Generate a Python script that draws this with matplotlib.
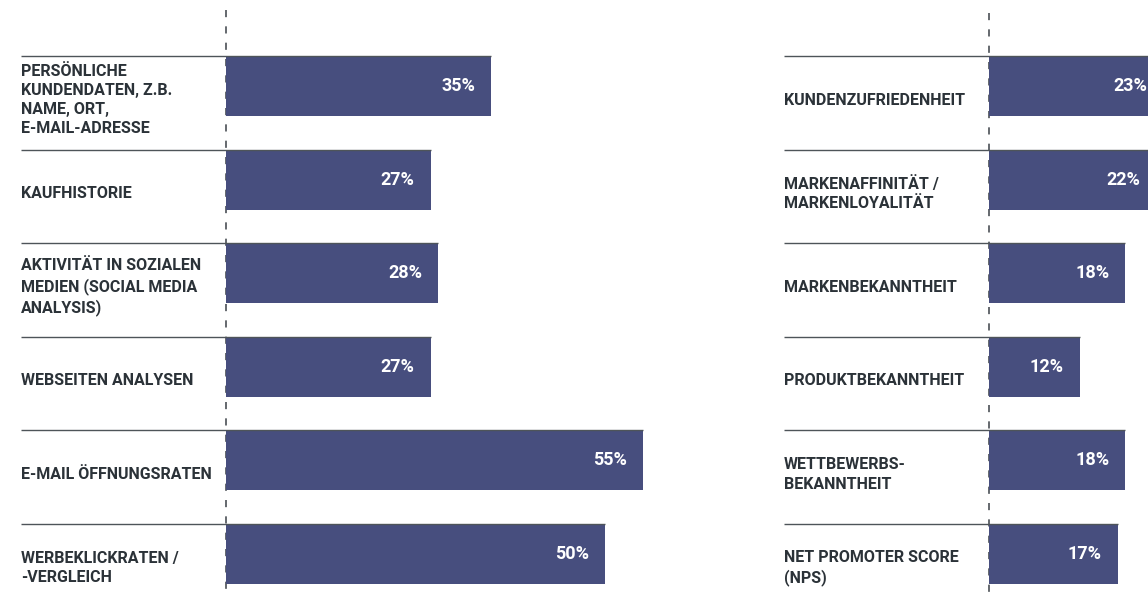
import matplotlib
matplotlib.use("Agg")
import matplotlib.pyplot as plt

# Data: share of respondents (%) per data source / KPI
left_labels = [
    "PERSÖNLICHE\nKUNDENDATEN, Z.B.\nNAME, ORT,\nE-MAIL-ADRESSE",
    "KAUFHISTORIE",
    "AKTIVITÄT IN SOZIALEN\nMEDIEN (SOCIAL MEDIA\nANALYSIS)",
    "WEBSEITEN ANALYSEN",
    "E-MAIL ÖFFNUNGSRATEN",
    "WERBEKLICKRATEN /\n-VERGLEICH",
]
left_values = [35, 27, 28, 27, 55, 50]

right_labels = [
    "KUNDENZUFRIEDENHEIT",
    "MARKENAFFINITÄT /\nMARKENLOYALITÄT",
    "MARKENBEKANNTHEIT",
    "PRODUKTBEKANNTHEIT",
    "WETTBEWERBS-\nBEKANNTHEIT",
    "NET PROMOTER SCORE\n(NPS)",
]
right_values = [23, 22, 18, 12, 18, 17]

W, H = 1148, 598
BAR_COLOR = "#474E7E"
TEXT_COLOR = "#2B3238"
RULE_COLOR = "#4E5459"
FONT = ["Roboto", "DejaVu Sans"]

PX_PER_UNIT = 7.58        # horizontal pixels per percentage point
ROW_PX = 93.6             # vertical pixels per row
FIRST_CENTER_PX = 86      # pixel row of the first bar centre
BAR_H = 60 / ROW_PX
LABEL_OFFSET_PX = 205     # distance of label column from the zero line

fig = plt.figure(figsize=(W / 100, H / 100), dpi=100)
fig.patch.set_facecolor("white")


def panel(x0_px, x1_px, zero_px, labels, values, dash_top_px):
    ax = fig.add_axes([x0_px / W, 0, (x1_px - x0_px) / W, 1])
    ax.set_xlim((x0_px - zero_px) / PX_PER_UNIT, (x1_px - zero_px) / PX_PER_UNIT)
    ax.set_ylim((H - FIRST_CENTER_PX) / ROW_PX, -FIRST_CENTER_PX / ROW_PX)
    ax.axis("off")

    ypos = list(range(len(values)))
    label_x = -LABEL_OFFSET_PX / PX_PER_UNIT

    # dashed zero line
    ax.plot([0, 0], [(dash_top_px - FIRST_CENTER_PX) / ROW_PX, (H - FIRST_CENTER_PX) / ROW_PX],
            color="#4A4F55", lw=1.2, linestyle=(0, (4.3, 5.5)), zorder=1,
            clip_on=False)

    ax.barh(ypos, values, height=BAR_H, color=BAR_COLOR, zorder=2)

    for y, v, lab in zip(ypos, values, labels):
        top = y - BAR_H / 2
        ax.plot([label_x, v], [top, top], color=RULE_COLOR, lw=1.0, zorder=3,
                solid_capstyle="butt", clip_on=True)
        ax.text(label_x, y + 0.15, lab, ha="left", va="center", fontsize=11.5,
                fontweight="bold", color=TEXT_COLOR, family=FONT, linespacing=1.35)
        ax.annotate(f"{v}%", xy=(v, y), xytext=(-16, 0), textcoords="offset pixels",
                    ha="right", va="center", fontsize=13, fontweight="bold",
                    color="white", family=FONT, zorder=4, annotation_clip=False)
    return ax


panel(0, 700, 226, left_labels, left_values, 10)
panel(740, W, 989, right_labels, right_values, 13)

fig.savefig("out.png", dpi=100, facecolor="white")
